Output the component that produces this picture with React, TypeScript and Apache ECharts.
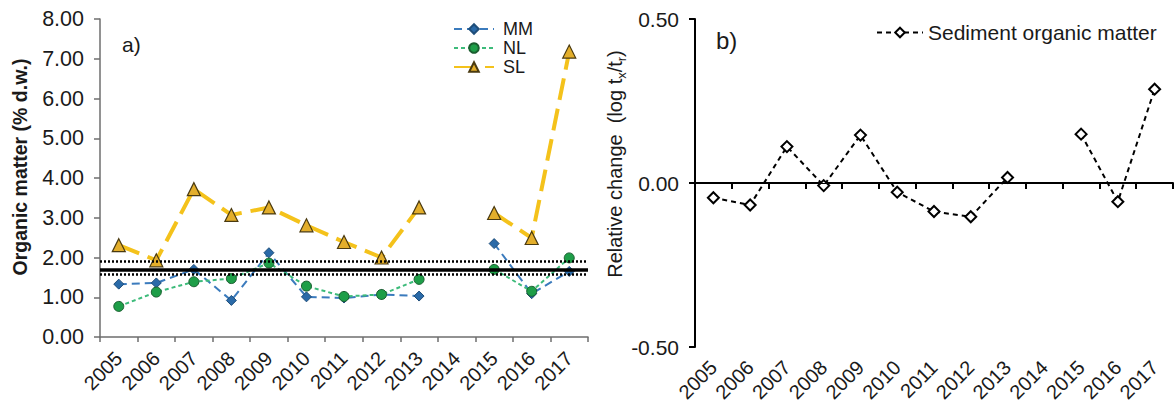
import React, { useEffect, useRef } from "react";
import * as echarts from "echarts";

const years = ["2005", "2006", "2007", "2008", "2009", "2010", "2011", "2012", "2013", "2014", "2015", "2016", "2017"];
const mmValues = [1.33, 1.36, 1.7, 0.92, 2.12, 1.01, 0.98, 1.07, 1.03, null, 2.35, 1.09, 1.65];
const nlValues = [0.77, 1.13, 1.39, 1.47, 1.86, 1.28, 1.02, 1.07, 1.45, null, 1.7, 1.15, 1.99];
const slValues = [2.31, 1.93, 3.72, 3.07, 3.26, 2.81, 2.39, 2.0, 3.26, null, 3.12, 2.49, 7.18];
const relativeChange = [-0.045, -0.067, 0.111, -0.008, 0.146, -0.028, -0.087, -0.103, 0.017, null, 0.149, -0.057, 0.286];
const refMean = 1.7;
const refUpper = 1.9;
const refLower = 1.59;
const leftTicks = { min: 0, max: 8, step: 1 };
const rightTicks = { min: -0.5, max: 0.5, step: 0.5 };

const FONT = "'Liberation Sans', Arial, sans-serif";

export default function App() {
  const ref = useRef<HTMLDivElement>(null);
  useEffect(() => {
    document.body.style.margin = "0";
    const chart = echarts.init(ref.current!, null, { renderer: "svg" });
    const leftAxisColor = "#6e6e6e";
    const option: any = {
      animation: false,
      backgroundColor: "#ffffff",
      textStyle: { fontFamily: FONT },
      grid: [
        { left: 100, top: 19, width: 488, height: 318 },
        { left: 695, top: 19, width: 478, height: 328 },
      ],
      legend: [
        {
          data: ["MM", "NL", "SL"],
          orient: "vertical",
          left: 453,
          top: 20,
          padding: 0,
          itemWidth: 40,
          itemHeight: 12,
          itemGap: 1,
          textStyle: { fontSize: 18, color: "#1a1a1a", fontFamily: FONT, lineHeight: 18, padding: [0, 0, 0, 4] },
        },
        {
          data: ["Sediment organic matter"],
          left: 876,
          top: 22,
          padding: 0,
          itemWidth: 46,
          itemHeight: 12,
          textStyle: { fontSize: 21, color: "#1a1a1a", fontFamily: FONT },
        },
      ],
      xAxis: [
        {
          gridIndex: 0,
          type: "category",
          data: years,
          boundaryGap: true,
          axisLine: { lineStyle: { color: leftAxisColor, width: 1.5 } },
          axisTick: { show: true, length: 5, interval: 0, lineStyle: { color: leftAxisColor, width: 1.5 } },
          axisLabel: { rotate: 45, interval: 0, fontSize: 20, color: "#1a1a1a", margin: 18, fontFamily: FONT },
          splitLine: { show: false },
        },
        {
          gridIndex: 1,
          type: "category",
          data: years,
          boundaryGap: true,
          axisLine: { lineStyle: { color: "#000", width: 2 } },
          axisTick: { show: true, length: 6, interval: 0, lineStyle: { color: "#000", width: 2 } },
          axisLabel: { rotate: 45, interval: 0, fontSize: 20, color: "#1a1a1a", margin: 17, fontFamily: FONT },
          splitLine: { show: false },
        },
      ],
      yAxis: [
        {
          gridIndex: 0,
          type: "value",
          min: leftTicks.min,
          max: leftTicks.max,
          interval: leftTicks.step,
          axisLine: { show: true, lineStyle: { color: leftAxisColor, width: 1.5 } },
          axisTick: { show: true, length: 6, lineStyle: { color: leftAxisColor, width: 1.5 } },
          axisLabel: { fontSize: 21.5, color: "#1a1a1a", margin: 16, fontFamily: FONT, formatter: (v: number) => v.toFixed(2) },
          splitLine: { show: false },
        },
        {
          gridIndex: 1,
          type: "value",
          min: rightTicks.min,
          max: rightTicks.max,
          interval: rightTicks.step,
          axisLine: { show: true, lineStyle: { color: "#000", width: 2 } },
          axisTick: { show: true, length: 6, lineStyle: { color: "#000", width: 2 } },
          axisLabel: { fontSize: 21, color: "#1a1a1a", margin: 16, fontFamily: FONT, formatter: (v: number) => v.toFixed(2) },
          splitLine: { show: false },
        },
      ],
      series: [
        {
          name: "ref",
          type: "line",
          xAxisIndex: 0,
          yAxisIndex: 0,
          data: [],
          z: 1,
          silent: true,
          markLine: {
            silent: true,
            symbol: ["none", "none"],
            label: { show: false },
            data: [
              { yAxis: refMean, lineStyle: { color: "#000", width: 3.5, type: "solid" } },
              { yAxis: refUpper, lineStyle: { color: "#000", width: 2.5, type: [2, 2] } },
              { yAxis: refLower, lineStyle: { color: "#000", width: 2.5, type: [2, 2] } },
            ],
          },
        },
        {
          name: "MM",
          type: "line",
          xAxisIndex: 0,
          yAxisIndex: 0,
          data: mmValues,
          connectNulls: false,
          z: 3,
          symbol: "diamond",
          symbolSize: 10,
          color: "#2a6aa8",
          itemStyle: { color: "#2a6aa8", borderColor: "#1f4e7a", borderWidth: 1 },
          lineStyle: { color: "#3b7bbd", width: 2, type: [8, 5] },
        },
        {
          name: "NL",
          type: "line",
          xAxisIndex: 0,
          yAxisIndex: 0,
          data: nlValues,
          connectNulls: false,
          z: 4,
          symbol: "circle",
          symbolSize: 10,
          color: "#1e9e48",
          itemStyle: { color: "#1e9e48", borderColor: "#1b5e30", borderWidth: 1 },
          lineStyle: { color: "#3dbb7a", width: 2, type: [4, 3] },
        },
        {
          name: "SL",
          type: "line",
          xAxisIndex: 0,
          yAxisIndex: 0,
          data: slValues,
          connectNulls: false,
          z: 2,
          symbol: "triangle",
          symbolSize: 13,
          color: "#e3ae2b",
          itemStyle: { color: "#e3ae2b", borderColor: "#4a3a10", borderWidth: 1.2 },
          lineStyle: { color: "#f4c21b", width: 4, type: [22, 9] },
        },
        {
          name: "Sediment organic matter",
          type: "line",
          xAxisIndex: 1,
          yAxisIndex: 1,
          data: relativeChange,
          connectNulls: false,
          symbol: "diamond",
          symbolSize: 11,
          color: "#000",
          itemStyle: { color: "#fff", borderColor: "#000", borderWidth: 2 },
          lineStyle: { color: "#000", width: 2, type: [5, 4] },
          markLine: {
            silent: true,
            symbol: ["none", "none"],
            label: { show: false },
            data: [{ yAxis: 0, lineStyle: { color: "#000", width: 1, type: "solid" } }],
          },
        },
      ],
      graphic: [
        {
          type: "text",
          x: 20,
          y: 167,
          rotation: Math.PI / 2,
          style: {
            text: "Organic matter (% d.w.)",
            fontSize: 19.5,
            fontWeight: "bold",
            fontFamily: FONT,
            fill: "#1a1a1a",
            align: "center",
            verticalAlign: "middle",
            textAlign: "center",
            textVerticalAlign: "middle",
          },
        },
        {
          type: "text",
          x: 615,
          y: 164,
          rotation: Math.PI / 2,
          style: {
            text: "{n|Relative change  (log t}{s|x}{n|/t}{s|r}{n|)}",
            fontFamily: FONT,
            fill: "#1a1a1a",
            align: "center",
            verticalAlign: "middle",
            textAlign: "center",
            textVerticalAlign: "middle",
            rich: {
              n: { fontSize: 20, lineHeight: 26, fontFamily: FONT, fill: "#1a1a1a", verticalAlign: "middle" },
              s: { fontSize: 13, lineHeight: 12, fontFamily: FONT, fill: "#1a1a1a", verticalAlign: "bottom" },
            },
          },
        },
        {
          type: "text",
          x: 122,
          y: 44,
          style: { text: "a)", fontSize: 21, fontFamily: FONT, fill: "#1a1a1a", verticalAlign: "middle", textVerticalAlign: "middle" },
        },
        {
          type: "text",
          x: 716,
          y: 40,
          style: { text: "b)", fontSize: 24, fontFamily: FONT, fill: "#1a1a1a", verticalAlign: "middle", textVerticalAlign: "middle" },
        },
      ],
    };
    chart.setOption(option);
    return () => chart.dispose();
  }, []);
  return <div ref={ref} style={{ width: 1174, height: 407 }} />;
}
